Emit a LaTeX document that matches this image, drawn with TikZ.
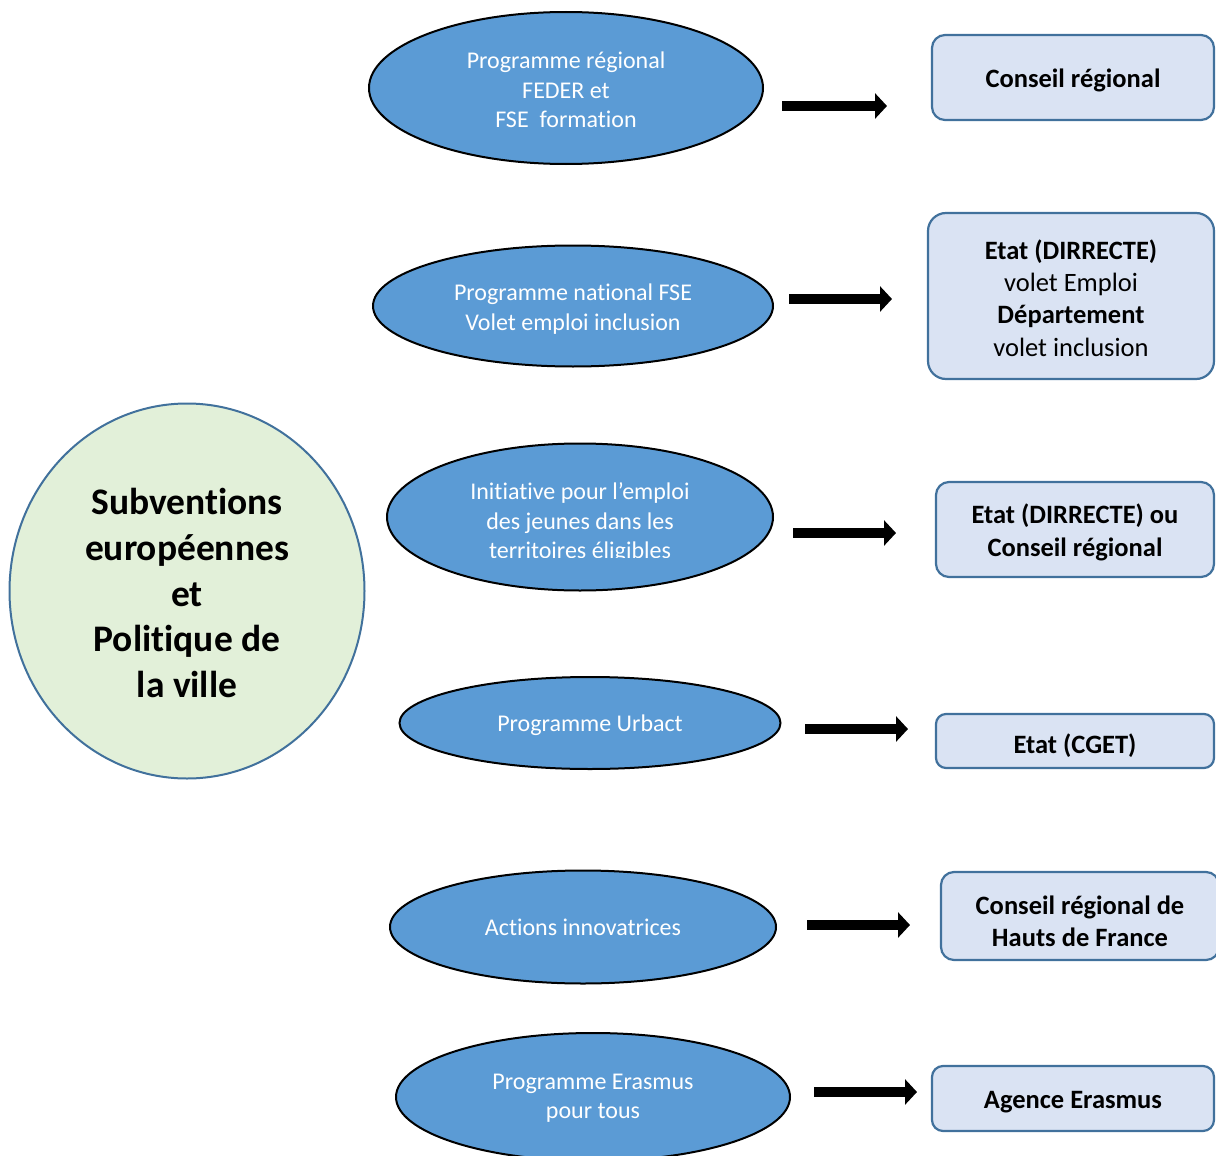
\documentclass[tikz,border=0pt]{standalone}
\usepackage{fontspec}
\setmainfont{Carlito}[Ligatures={NoCommon,NoContextual},Contextuals=NoAlternate]
\usetikzlibrary{shapes.geometric,arrows.meta}
\definecolor{ellblue}{HTML}{5B9BD5}
\definecolor{boxfill}{HTML}{DAE3F3}
\definecolor{boxline}{HTML}{41719C}
\definecolor{circfill}{HTML}{E2F0D9}
\newcommand{\Tii}{t\kern0pt i}
\begin{document}
\begin{tikzpicture}[x=1pt,y=-1pt,
  prog/.style={ellipse, draw=black, line width=2pt, fill=ellblue, inner sep=0pt},
  progtext/.style={text=white, inner sep=0pt, align=center, font=\fontsize{24}{29.5}\selectfont},
  org/.style={rectangle, rounded corners=13pt, draw=boxline, line width=2.2pt, fill=boxfill, inner sep=0pt},
  orgtext/.style={inner sep=0pt, align=center, font=\bfseries\fontsize{26.5}{32.3}\selectfont},
  flow/.style={line width=10pt, -{Triangle[length=12pt,width=25pt]}}]
\clip (0,0) rectangle (1216,1156);
\node[ellipse, draw=boxline, line width=2pt, fill=circfill, minimum width=355pt, minimum height=375pt, inner sep=0pt] (hub) at (187,591) {};
\node[inner sep=0pt, align=center, font=\bfseries\fontsize{37.5}{45.7}\selectfont, yshift=-2pt] (hubt) at (hub.center) {Subven\Tii ons\\européennes\\et\\Poli\Tii que de\\la ville};

\node[prog, minimum width=394pt, minimum height=152pt] (p1) at (566,88) {};
\node[progtext, yshift=-2pt] (p1t) at (p1.center) {Programme régional\\FEDER et\\FSE\ \ forma\Tii on};
\node[prog, minimum width=400pt, minimum height=121pt] (p2) at (573,306) {};
\node[progtext, yshift=-3pt] (p2t) at (p2.center) {Programme na\Tii onal FSE\\Volet emploi inclusion};
\node[prog, minimum width=386pt, minimum height=147pt] (p3) at (580,517) {};
\begin{scope}
\clip (387,444) rectangle (773,557);
\node[progtext] (p3t) at (580,523) {Ini\Tii a\Tii ve pour l’emploi\\des jeunes dans les\\territoires éligibles};
\end{scope}
\node[prog, minimum width=381pt, minimum height=92pt] (p4) at (590,723) {};
\node[progtext, yshift=-2pt] (p4t) at (p4.center) {Programme Urbact};
\node[prog, minimum width=386pt, minimum height=113pt] (p5) at (583,927) {};
\node[progtext] (p5t) at (p5.center) {Ac\Tii ons innovatrices};
\node[prog, minimum width=394pt, minimum height=128pt] (p6) at (593,1097) {};
\node[progtext, yshift=-1pt] (p6t) at (p6.center) {Programme Erasmus\\pour tous};

\node[org, minimum width=282pt, minimum height=85pt] (o1) at (1073,77.5) {};
\node[orgtext, yshift=-3pt] (o1t) at (o1.center) {Conseil régional};
\node[org, minimum width=286pt, minimum height=166pt, rounded corners=18pt] (o2) at (1071,296) {};
\node[orgtext, yshift=-2pt] (o2t) at (o2.center) {Etat (DIRRECTE)\\\mdseries volet Emploi\\Département\\\mdseries volet inclusion};
\node[org, minimum width=278pt, minimum height=95pt] (o3) at (1075,529.5) {};
\node[orgtext, yshift=-3pt] (o3t) at (o3.center) {Etat (DIRRECTE) ou\\Conseil régional};
\node[org, minimum width=278pt, minimum height=54pt, rounded corners=10pt] (o4) at (1075,741) {};
\node[orgtext, yshift=-5pt] (o4t) at (o4.center) {Etat (CGET)};
\node[org, minimum width=278pt, minimum height=88pt] (o5) at (1080,916) {};
\node[orgtext, yshift=-5pt] (o5t) at (o5.center) {Conseil régional de\\Hauts de France};
\node[org, minimum width=282pt, minimum height=65pt, rounded corners=11pt] (o6) at (1073,1098.5) {};
\node[orgtext, yshift=-4pt] (o6t) at (o6.center) {Agence Erasmus};

\coordinate (a1s) at (782,106);  \coordinate (a1e) at (887,106);
\coordinate (a2s) at (789,299);  \coordinate (a2e) at (892,299);
\coordinate (a3s) at (793,533);  \coordinate (a3e) at (896,533);
\coordinate (a4s) at (805,729);  \coordinate (a4e) at (908,729);
\coordinate (a5s) at (807,925);  \coordinate (a5e) at (910,925);
\coordinate (a6s) at (814,1092); \coordinate (a6e) at (917,1092);
\draw[flow] (a1s) -- (a1e);
\draw[flow] (a2s) -- (a2e);
\draw[flow] (a3s) -- (a3e);
\draw[flow] (a4s) -- (a4e);
\draw[flow] (a5s) -- (a5e);
\draw[flow] (a6s) -- (a6e);
\end{tikzpicture}
\end{document}
